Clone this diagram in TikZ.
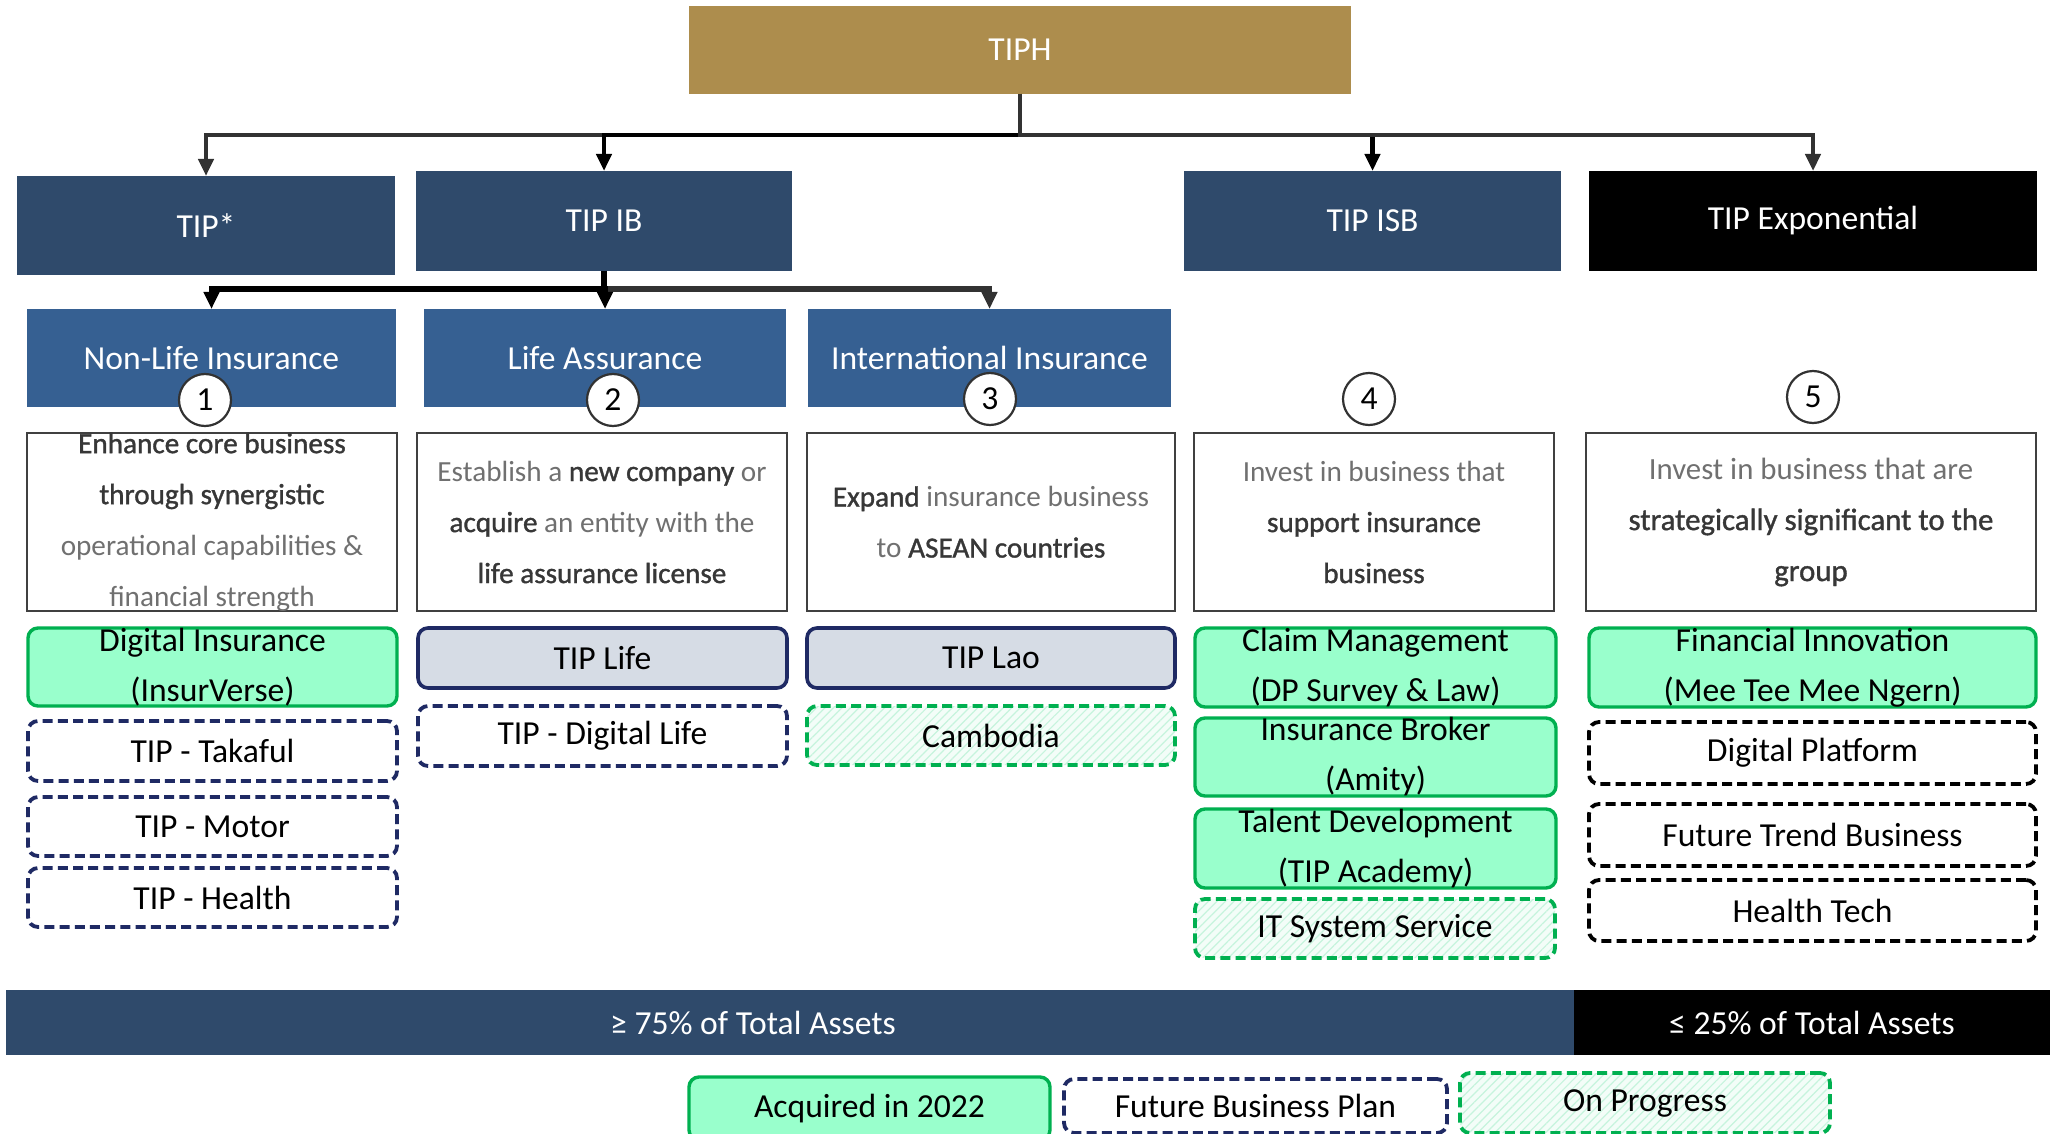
\documentclass[tikz,border=0pt]{standalone}
\usepackage{fontspec}
\setmainfont{Carlito}
\newfontfamily\medfont{Carlito}[FakeBold=1.2]
\usetikzlibrary{arrows.meta,patterns.meta}
\definecolor{gold}{RGB}{173,141,77}
\definecolor{navy}{RGB}{47,74,107}
\definecolor{midblue}{RGB}{54,96,146}
\definecolor{mint}{RGB}{153,255,204}
\definecolor{grn}{RGB}{0,176,80}
\definecolor{lifefill}{RGB}{214,220,229}
\definecolor{dnavy}{RGB}{31,42,100}
\definecolor{descgray}{RGB}{112,112,112}
\definecolor{descdark}{RGB}{55,55,55}
\definecolor{boxline}{RGB}{64,64,64}
\definecolor{conngray}{RGB}{50,50,50}
\definecolor{hatch}{RGB}{198,244,221}
\definecolor{hatchbg}{RGB}{243,253,248}
\newcommand\dkb[1]{{\medfont\color{descdark}#1}}
\newcommand\bx[8]{\node[#6, minimum width={(#4-#2)*0.5pt}, minimum height={(#5-#3)*0.5pt}, label={[#7]center:{#8}}] (#1) at ({(#2+#4)/2},{(#3+#5)/2}) {};}
\tikzset{
  base/.style={inner sep=0pt, outer sep=0pt},
  hdr/.style={base, fill=#1, draw=none},
  hdrtxt/.style={text=white, font=\fontsize{16.8}{20}\selectfont},
  desc/.style={base, draw=boxline, line width=1.2pt, fill=white},
  desctxt/.style={text=descgray, align=center, font=\fontsize{14.6}{25.5}\selectfont},
  acq/.style={base, draw=grn, fill=mint, line width=1.7pt, rounded corners=5pt},
  fut/.style={base, draw=dnavy, fill=white, line width=1.9pt, dash pattern=on 5pt off 2.6pt, rounded corners=5pt},
  futk/.style={fut, draw=black},
  prog/.style={base, draw=grn, line width=1.9pt, dash pattern=on 5pt off 2.6pt, rounded corners=5pt, preaction={fill=hatchbg}, pattern={Lines[angle=45,distance=3pt,line width=0.6pt]}, pattern color=hatch},
  cur/.style={base, draw=dnavy, fill=lifefill, line width=1.8pt, rounded corners=5pt},
  itxt/.style={text=black, align=center, font=\fontsize{16.8}{25}\selectfont},
  num/.style={circle, draw=conngray, line width=1.1pt, fill=white, minimum size=26pt, inner sep=0pt, font=\fontsize{16.8}{20}\selectfont},
  conn/.style={line width=2.2pt, -{Triangle[length=8.5pt,width=7.5pt]}},
}
\begin{document}
\begin{tikzpicture}[x=0.5pt,y=-0.5pt]
\useasboundingbox (0,0) rectangle (2050,1134);
\clip (0,0) rectangle (2050,1134);
\fill[white] (0,0) rectangle (2050,1134);
% top
\bx{tiph}{689}{6}{1351}{94}{hdr=gold}{hdrtxt}{TIPH}
\bx{tipstar}{17}{176}{395}{275}{hdr=navy}{hdrtxt}{TIP*}
\bx{tipib}{416}{171}{792}{271}{hdr=navy}{hdrtxt}{TIP IB}
\bx{tipisb}{1184}{171}{1561}{271}{hdr=navy}{hdrtxt}{TIP ISB}
\bx{tipexp}{1589}{171}{2037}{271}{hdr=black}{hdrtxt}{TIP Exponential}
\bx{nonlife}{27}{309}{396}{407}{hdr=midblue}{hdrtxt}{Non-Life Insurance}
\bx{lifeass}{424}{309}{786}{407}{hdr=midblue}{hdrtxt}{Life Assurance}
\bx{intl}{808}{309}{1171}{407}{hdr=midblue}{hdrtxt}{International Insurance}
% connectors
\coordinate (b1) at (1020,135);
\coordinate (b2) at (604,289);
\draw[conn, conngray] (tiph.south) -- (b1) -| (tipstar.north);
\draw[conn, black] (tiph.south) -- (b1) -| (tipib.north);
\draw[conn, black] (tiph.south) -- (b1) -| (tipisb.north);
\draw[conn, conngray] (tiph.south) -- (b1) -| (tipexp.north);
\draw[conn, conngray, line width=2.6pt] (tipib.south) -- (b2) -| (intl.north);
\draw[conn, black, line width=2.6pt] (tipib.south) -- (b2) -| (nonlife.north);
\draw[conn, black, line width=2.6pt] (tipib.south) -- (b2) -| (lifeass.north);
% description boxes
\bx{d1}{27}{433}{397}{611}{desc}{desctxt}{\dkb{Enhance core business}\\\dkb{through synergistic}\\operational capabilities \&\\financial strength}
\bx{d2}{417}{433}{787}{611}{desc}{desctxt}{Establish a \dkb{new company} or\\\dkb{acquire} an entity with the\\\dkb{life assurance license}}
\bx{d3}{807}{433}{1175}{611}{desc}{desctxt}{\dkb{Expand} insurance business\\to \dkb{ASEAN countries}}
\bx{d4}{1194}{433}{1554}{611}{desc}{desctxt}{Invest in business that\\\dkb{support insurance}\\\dkb{business}}
\bx{d5}{1586}{433}{2036}{611}{desc}{desctxt, font=\fontsize{15.4}{25.5}\selectfont}{Invest in business that are\\\dkb{strategically significant to the}\\\dkb{group}}
% numbers
\node[num] (n1) at (205,400) {1};
\node[num] (n2) at (613,400) {2};
\node[num] (n3) at (990,399) {3};
\node[num] (n4) at (1369,399) {4};
\node[num] (n5) at (1813,397) {5};
% column 1
\bx{insv}{28}{628}{397}{706}{acq}{itxt}{Digital Insurance\\(InsurVerse)}
\bx{tak}{28}{721}{397}{781}{fut}{itxt}{TIP - Takaful}
\bx{mot}{28}{797}{397}{856}{fut}{itxt}{TIP - Motor}
\bx{hea}{28}{868}{397}{927}{fut}{itxt}{TIP - Health}
% column 2
\bx{life}{418}{628}{787}{688}{cur}{itxt}{TIP Life}
\bx{dlife}{418}{706}{787}{766}{fut}{itxt}{TIP - Digital Life}
% column 3
\bx{lao}{807}{628}{1175}{688}{cur}{itxt}{TIP Lao}
\bx{cam}{807}{706}{1175}{765}{prog}{itxt}{Cambodia}
% column 4
\bx{claim}{1195}{628}{1556}{707}{acq}{itxt}{Claim Management\\(DP Survey \& Law)}
\bx{broker}{1195}{718}{1556}{796}{acq}{itxt}{Insurance Broker\\(Amity)}
\bx{talent}{1195}{809}{1556}{888}{acq}{itxt}{Talent Development\\(TIP Academy)}
\bx{itsys}{1195}{899}{1555}{958}{prog}{itxt}{IT System Service}
% column 5
\bx{fin}{1589}{628}{2036}{707}{acq}{itxt}{Financial Innovation\\(Mee Tee Mee Ngern)}
\bx{dplat}{1589}{722}{2036}{784}{futk}{itxt}{Digital Platform}
\bx{ftb}{1589}{804}{2036}{866}{futk}{itxt}{Future Trend Business}
\bx{htech}{1589}{880}{2036}{941}{futk}{itxt}{Health Tech}
% bottom bar
\bx{bar1}{6}{990}{1574}{1055}{hdr=navy}{hdrtxt, xshift=-18.5pt}{≥ 75\% of Total Assets}
\bx{bar2}{1574}{990}{2050}{1055}{hdr=black}{hdrtxt}{≤ 25\% of Total Assets}
% legend
\bx{lg1}{689}{1077}{1050}{1140}{acq}{itxt}{Acquired in 2022}
\bx{lg2}{1064}{1079}{1447}{1133}{fut}{itxt}{Future Business Plan}
\bx{lg3}{1460}{1073}{1830}{1133}{prog}{itxt}{On Progress}
\end{tikzpicture}
\end{document}
